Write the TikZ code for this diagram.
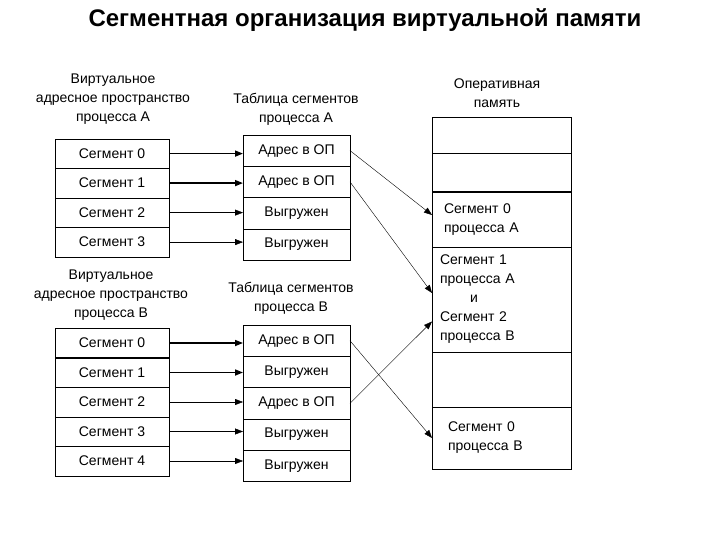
\documentclass[tikz,border=0pt]{standalone}
\usepackage{fontspec}
\setmainfont{Liberation Sans}
\usetikzlibrary{positioning,arrows.meta}

\begin{document}
\begin{tikzpicture}[x=1pt, y=-1pt, node distance=0pt,
    every node/.style={font=\fontsize{14}{19}\selectfont},
    seg/.style={rectangle, draw=black, inner sep=0pt, outer sep=0pt, minimum width=114pt, minimum height=29.5pt, text centered},
    entry/.style={rectangle, draw=black, inner sep=0pt, outer sep=0pt, minimum width=107pt, minimum height=31.3pt, text centered},
    mem/.style={rectangle, draw=black, inner xsep=12pt, inner ysep=0pt, outer sep=0pt, text width=115pt, align=left},
    head/.style={align=center},
    arrow/.style={->, >={Triangle[length=8pt, width=6pt]}},
    boldarrow/.style={arrow, line width=1.6pt}]

    \useasboundingbox (0,0) rectangle (720,540);

    \node (title) at (365,20) [font=\fontsize{24}{28}\selectfont\bfseries] {Сегментная организация виртуальной памяти};

    % process A
    \node (hva) [head] at (113,99) {Виртуальное\\адресное пространство\\процесса А};
    \node (hta) [head] at (296,109) {Таблица сегментов\\процесса А};

    \node (va0) [seg] at (112,153.6) {Сегмент 0};
    \node (va1) [seg, below=of va0] {Сегмент 1};
    \node (va2) [seg, below=of va1] {Сегмент 2};
    \node (va3) [seg, below=of va2] {Сегмент 3};

    \node (ta0) [entry] at (296.5,150.6) {Адрес в ОП};
    \node (ta1) [entry, below=of ta0] {Адрес в ОП};
    \node (ta2) [entry, below=of ta1] {Выгружен};
    \node (ta3) [entry, below=of ta2] {Выгружен};

    % process B
    \node (hvb) [head] at (111,295) {Виртуальное\\адресное пространство\\процесса В};
    \node (htb) [head] at (291,298) {Таблица сегментов\\процесса В};

    \node (vb0) [seg] at (112,343) {Сегмент 0};
    \node (vb1) [seg, below=of vb0] {Сегмент 1};
    \node (vb2) [seg, below=of vb1] {Сегмент 2};
    \node (vb3) [seg, below=of vb2] {Сегмент 3};
    \node (vb4) [seg, below=of vb3] {Сегмент 4};

    \node (tb0) [entry] at (296.5,340.7) {Адрес в ОП};
    \node (tb1) [entry, below=of tb0] {Выгружен};
    \node (tb2) [entry, below=of tb1] {Адрес в ОП};
    \node (tb3) [entry, below=of tb2] {Выгружен};
    \node (tb4) [entry, below=of tb3] {Выгружен};

    % main memory
    \node (hmem) [head] at (497,93) {Оперативная\\память};

    \node (m0) [mem, minimum height=36pt] at (501.5,135) {};
    \node (m1) [mem, minimum height=39pt, below=of m0] {};
    \node (m2) [mem, minimum height=55pt, below=of m1] {Сегмент 0\\процесса А};
    \node (m3) [mem, minimum height=105pt, inner xsep=8pt, text width=123pt, below=of m2] {Сегмент 1\\процесса А\\\hspace*{30pt}и\\Сегмент 2\\процесса В};
    \node (m4) [mem, minimum height=55pt, below=of m3] {};
    \node (m5) [mem, minimum height=62pt, inner xsep=16pt, text width=107pt, below=of m4] {Сегмент 0\\процесса В};

    \draw [line width=1.6pt] (m1.south west) -- (m1.south east);
    \draw [line width=1.6pt] (vb0.south west) -- (vb0.south east);

    \draw [boldarrow] (va0.east) -- (va0.east -| ta0.west);
    \draw [boldarrow] (va1.east) -- (va1.east -| ta1.west);
    \draw [arrow] (va2.east) -- (va2.east -| ta2.west);
    \draw [arrow] (va3.east) -- (va3.east -| ta3.west);

    \draw [boldarrow] (vb0.east) -- (vb0.east -| tb0.west);
    \draw [boldarrow] (vb1.east) -- (vb1.east -| tb1.west);
    \draw [arrow] (vb2.east) -- (vb2.east -| tb2.west);
    \draw [arrow] (vb3.east) -- (vb3.east -| tb3.west);
    \draw [arrow] (vb4.east) -- (vb4.east -| tb4.west);

    \draw [arrow] (ta0.east) -- ([yshift=4.5pt]m2.west);
    \draw [arrow] (ta1.east) -- ([yshift=6.5pt]m3.west);
    \draw [arrow] (tb0.east) -- (m5.west);
    \draw [arrow] (tb2.east) -- ([yshift=-22pt]m3.west);

  \end{tikzpicture}
\end{document}
